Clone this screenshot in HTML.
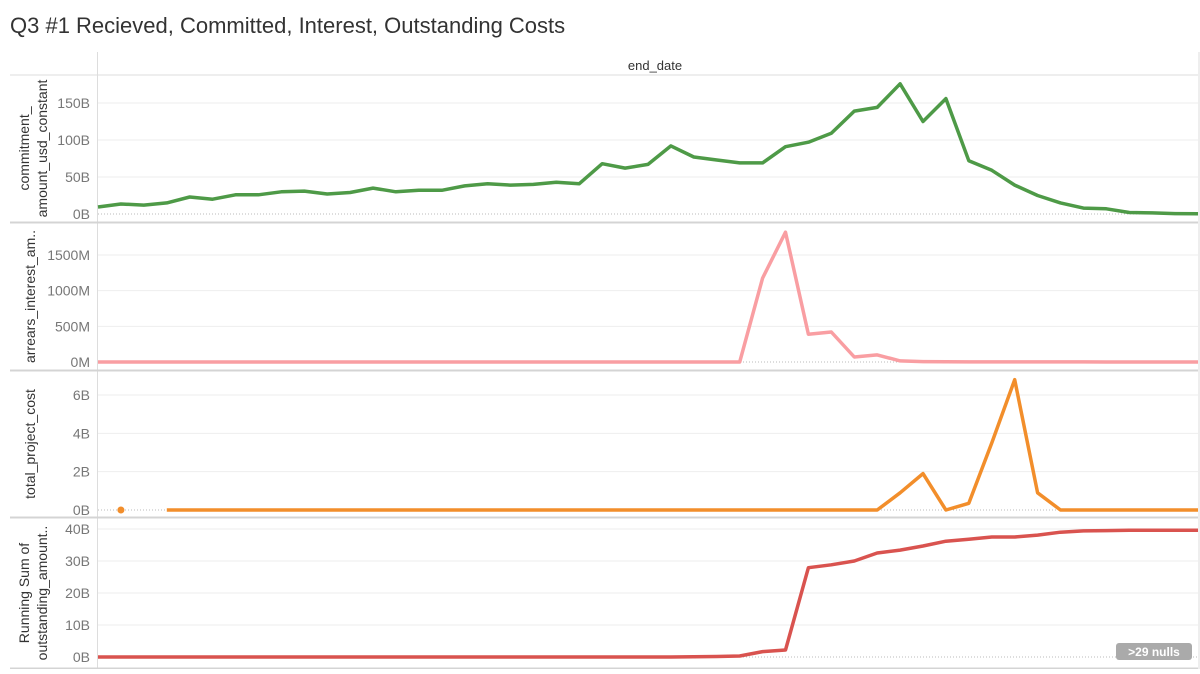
<!DOCTYPE html>
<html><head><meta charset="utf-8">
<style>
html,body{margin:0;padding:0;background:#fff;}
svg text{font-family:"Liberation Sans",sans-serif;}
</style></head>
<body>
<svg id="chart" width="1200" height="669" viewBox="0 0 1200 669" xmlns="http://www.w3.org/2000/svg">
<text x="10" y="33" font-size="22" fill="#333">Q3 #1 Recieved, Committed, Interest, Outstanding Costs</text>
<text x="655" y="70" font-size="13" fill="#333" text-anchor="middle">end_date</text>
<g id="panels"></g>
<g>
<rect x="1116" y="643" width="76" height="17" rx="3" fill="#aaa"/>
<text x="1154" y="656" font-size="12" font-weight="bold" fill="#fff" text-anchor="middle">&gt;29 nulls</text>
</g>
</svg>
<script>
const commitment = [9.5,13.5,12,15,23,20,26,26,30,31,27,29,35,30,32,32,38,41,39,40,43,41,68,62,67,92,77,73,69,69,91,97,109,139,144,176,125,156,72,59,39,25,15,8,7,2,1.5,0.5,0.3];
const arrears = [0,0,0,0,0,0,0,0,0,0,0,0,0,0,0,0,0,0,0,0,0,0,0,0,0,0,0,0,0,1176,1820,390,420,70,100,15,5,3,2,1,1,1,1,1,0,0,0,0,0];
const projectCost = [null,0,null,0,0,0,0,0,0,0,0,0,0,0,0,0,0,0,0,0,0,0,0,0,0,0,0,0,0,0,0,0,0,0,0,0.9,1.9,0,0.35,3.5,6.8,0.9,0,0,0,0,0,0,0];
const runningSum = [0,0,0,0,0,0,0,0,0,0,0,0,0,0,0,0,0,0,0,0,0,0,0,0,0,0,0.05,0.15,0.3,1.7,2.2,27.9,28.8,30,32.5,33.4,34.7,36.2,36.8,37.5,37.5,38.1,39,39.4,39.5,39.6,39.6,39.6,39.6];
const ticks1 = [0,50,100,150], ticks1Labels = ["0B","50B","100B","150B"];
const ticks2 = [0,500,1000,1500], ticks2Labels = ["0M","500M","1000M","1500M"];
const ticks3 = [0,2,4,6], ticks3Labels = ["0B","2B","4B","6B"];
const ticks4 = [0,10,20,30,40], ticks4Labels = ["0B","10B","20B","30B","40B"];

const NS="http://www.w3.org/2000/svg";
const g=document.getElementById('panels');
const X0=98, X1=1198, N=commitment.length;
function xs(i){return X0+i*(X1-X0)/(N-1);}
function mk(tag,attrs,parent){const e=document.createElementNS(NS,tag);for(const k in attrs)e.setAttribute(k,attrs[k]);(parent||g).appendChild(e);return e;}

let f=mk('line',{x1:10,y1:75,x2:1198,y2:75,stroke:'#ddd'});


f=mk('line',{x1:97.5,y1:52,x2:97.5,y2:669,stroke:'#ddd'});


f=mk('line',{x1:1199,y1:52,x2:1199,y2:669,stroke:'#ddd'});



const panels=[
 {name:'commitment',data:commitment,top:76,bottom:221,zeroY:214,maxV:150,maxY:103,ticks:ticks1,labels:ticks1Labels,color:'#4e9a47',title:['commitment_','amount_usd_constant']},
 {name:'arrears',data:arrears,top:224,bottom:369,zeroY:362,maxV:1500,maxY:255,ticks:ticks2,labels:ticks2Labels,color:'#f99ea2',title:['arrears_interest_am..']},
 {name:'project-cost',data:projectCost,top:372,bottom:516,zeroY:510,maxV:6,maxY:395,ticks:ticks3,labels:ticks3Labels,color:'#f28e2b',title:['total_project_cost']},
 {name:'running-sum',data:runningSum,top:519,bottom:667,zeroY:657,maxV:40,maxY:529,ticks:ticks4,labels:ticks4Labels,color:'#d9534f',title:['Running Sum of','outstanding_amount..']}
];
panels.forEach((p,pi)=>{
  const ys=v=>p.zeroY-(v/p.maxV)*(p.zeroY-p.maxY);
  const pg=mk('g',{});
  
  
  const sep=mk('line',{x1:10,y1:p.bottom+1.5,x2:1198,y2:p.bottom+1.5,stroke:'#d4d4d4','stroke-width':2},pg);
  
  
  p.ticks.forEach((t,i)=>{
    const y=ys(t);
    if(t!==0){
      const gl=mk('line',{x1:X0,y1:y,x2:X1,y2:y,stroke:'#eee'},pg);
      
      
    } else {
      const zl=mk('line',{x1:X0,y1:y,x2:X1,y2:y,stroke:'#bbb','stroke-dasharray':'1,2'},pg);
      
      
    }
    const tx=mk('text',{x:90,y:y+5,'font-size':14,fill:'#777','text-anchor':'end'},pg);
    tx.textContent=p.labels[i];
    
    
  });
  const cy=(p.top+p.bottom)/2;
  const lines=p.title;
  lines.forEach((l,li)=>{
    const xx = lines.length===1 ? 35 : 29+li*18;
    const tt=mk('text',{x:xx,y:cy,'font-size':14,fill:'#333','text-anchor':'middle',transform:`rotate(-90 ${xx} ${cy})`},pg);
    tt.textContent=l;
    
    
  });
  let d='',prev=false,singles=[];
  p.data.forEach((v,i)=>{
    if(v===null){prev=false;return;}
    const nextNull = (i+1>=p.data.length)||p.data[i+1]===null;
    if(!prev && nextNull) singles.push(i);
    d+=(prev?'L':'M')+xs(i).toFixed(1)+','+ys(v).toFixed(1);
    prev=true;
  });
  const path=mk('path',{d:d,fill:'none',stroke:p.color,'stroke-width':3.5,'stroke-linejoin':'round'},pg);
  
  
  singles.forEach(i=>{
    const c=mk('circle',{cx:xs(i),cy:ys(p.data[i]),r:3.5,fill:p.color},pg);
    
    
  });
});
</script>
</body></html>
